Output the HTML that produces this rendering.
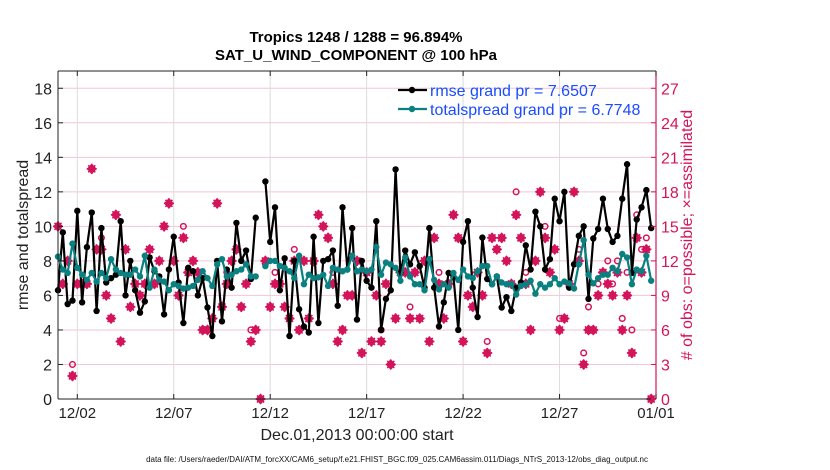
<!DOCTYPE html>
<html><head><meta charset="utf-8"><style>
body{margin:0;background:#fff;}
svg{display:block;font-family:"Liberation Sans",Arial,sans-serif;}
</style></head><body>
<svg id="chart" width="830" height="470" viewBox="0 0 830 470" xmlns="http://www.w3.org/2000/svg"></svg>
<script>
const rmse=[6.3,9.65,5.5,5.7,10.9,5.6,8.8,10.8,5.1,9.9,6.75,7.0,7.2,10.3,6.0,8.0,6.3,5.0,5.65,8.2,7.4,7.1,4.9,7.5,9.4,6.75,4.4,7.6,7.4,6.0,7.0,
5.3,3.65,8.0,4.5,7.5,6.45,10.2,8.0,8.6,6.95,10.5,null,12.6,9.1,11.1,6.3,8.15,3.65,8.0,5.2,4.2,3.85,9.4,4.4,8.0,8.1,8.6,5.4,11.1,7.5,9.9,
4.6,8.0,6.85,6.45,10.3,4.0,5.8,6.3,13.3,7.3,8.6,7.8,8.5,7.7,6.45,9.9,6.45,4.2,5.6,7.3,7.05,4.0,9.1,10.3,6.45,4.75,9.35,6.95,6.65,7.1,5.3,5.9,
5.1,6.45,6.75,8.9,7.5,10.85,10.0,7.5,8.1,11.6,10.3,12.0,6.45,7.8,9.45,10.0,5.8,9.3,9.85,11.6,9.85,9.1,9.45,11.6,13.6,7.3,10.4,11.1,12.1,9.9];
const spread=[8.25,7.5,7.3,9.0,7.6,7.2,6.9,7.3,6.8,7.3,7.0,8.1,7.5,7.3,7.2,7.2,7.5,7.1,8.3,6.45,7.5,6.9,6.8,6.3,6.65,6.55,6.4,6.45,6.55,6.9,7.4,
7.0,6.55,7.8,8.1,7.1,7.2,7.4,7.5,7.8,7.1,7.1,null,7.7,8.0,8.0,7.7,7.6,7.4,7.0,8.3,6.65,7.2,7.0,7.05,7.2,6.55,7.6,7.5,7.4,7.5,8.3,
7.4,7.5,7.4,7.5,8.8,7.2,7.9,7.8,7.6,6.85,8.2,7.1,6.65,6.65,6.3,8.1,6.9,6.35,6.65,6.45,7.3,6.9,7.5,7.1,7.0,7.4,7.7,7.7,6.65,7.1,6.75,6.65,
6.65,6.05,6.55,6.65,6.85,6.1,6.65,6.45,6.65,7.0,6.65,6.8,6.7,6.4,7.8,9.2,7.2,6.7,7.0,7.2,7.2,7.6,7.4,8.4,8.2,6.65,7.5,7.4,8.3,6.85];
const assim=[15,10,12,2,10,10,10,20,13,13,9,7,16,5,13,8,10,9,10,13,10,12,15,17,12,9,14,11,12,11,6,
6,7,17,8,10,12,13,8,10,5,6,0,12,8,10,10,8,7,12,6,12,7,12,16,15,14,10,5,6,9,9,
12,4,11,5,9,5,10,3,7,11,11,7,11,7,12,5,14,10,7,10,16,14,5,9,8,11,9,4,14,13,14,12,
10,16,14,10,6,12,18,14,11,13,6,7,10,18,12,3,6,6,9,11,10,9,11,6,9,4,14,11,13,0];
const possible=[15,10,12,3,10,10,10,20,13,14,9,7,16,5,13,8,10,9,10,13,10,12,15,17,12,9,15,11,12,11,6,
6,7,17,8,11,12,13,8,10,6,6,0,12,8,11,10,8,7,13,6,12,7,12,16,15,14,11,5,6,9,9,
12,4,11,5,9,6,10,3,7,11,11,8,11,7,12,5,14,11,7,10,16,14,5,9,8,11,9,5,14,13,14,12,
10,18,14,11,6,12,18,15,11,13,7,7,10,18,13,4,8,6,10,11,12,10,12,7,11,6,16,13,14,0];
const t0=0, dt=0.25;
const xTickDays=[1,6,11,16,21,26,31];
const xTickLabels=["12/02","12/07","12/12","12/17","12/22","12/27","01/01"];
const yTicks=[0,2,4,6,8,10,12,14,16,18];
const y2Ticks=[0,3,6,9,12,15,18,21,24,27];

const svg=document.getElementById('chart');
const NS='http://www.w3.org/2000/svg';
const L=58,R=656,T=71,B=399;
const xs=d=>L+(d-0)/31*(R-L);
const ys=v=>B-v/19*(B-T);
const ys2=v=>B-v/28.5*(B-T);
const RED='#d4145a',TEAL='#0a8080';
function mk(tag,attrs,parent){const e=document.createElementNS(NS,tag);for(const k in attrs)e.setAttribute(k,attrs[k]);(parent||svg).appendChild(e);return e;}
function txt(s,attrs){const e=mk('text',attrs);e.textContent=s;return e;}

const grid=mk('g',{});


yTicks.forEach(v=>{if(v>0)mk('line',{x1:L,x2:R,y1:ys(v),y2:ys(v),stroke:'#f2c6d6','stroke-width':1},grid);});
xTickDays.forEach(d=>mk('line',{x1:xs(d),x2:xs(d),y1:T,y2:B,stroke:'#dcdcdc','stroke-width':1},grid));

const mg=mk('g',{});


possible.forEach((v,i)=>{
  const c=mk('circle',{cx:xs(t0+i*dt),cy:ys2(v),r:2.8,fill:'none',stroke:RED,'stroke-width':1.5},mg);
  
  
});
assim.forEach((v,i)=>{
  const x=xs(t0+i*dt),y=ys2(v);
  const g=mk('g',{},mg);
  
  
  mk('path',{d:`M${x-5},${y}L${x},${y-5.5}L${x+5},${y}L${x},${y+5.5}Z`,fill:RED},g);
  mk('path',{d:`M${x-5},${y}H${x+5}M${x},${y-5}V${y+5}M${x-3.5},${y-3.5}L${x+3.5},${y+3.5}M${x-3.5},${y+3.5}L${x+3.5},${y-3.5}`,stroke:RED,'stroke-width':1.6},g);
});

function series(arr,color,name){
  const g=mk('g',{});
  
  
  let d='',pen=false;
  arr.forEach((v,i)=>{if(v===null){pen=false;return;}d+=(pen?'L':'M')+xs(t0+i*dt).toFixed(1)+','+ys(v).toFixed(1);pen=true;});
  mk('path',{d,fill:'none',stroke:color,'stroke-width':2.2,'stroke-linejoin':'round'},g);
  arr.forEach((v,i)=>{if(v===null)return;mk('circle',{cx:xs(t0+i*dt),cy:ys(v),r:3.2,fill:color},g);});
}
series(rmse,'#000','rmse-line');
series(spread,TEAL,'totalspread-line');

const ax=mk('g',{});


mk('line',{x1:L,x2:R,y1:T,y2:T,stroke:'#222','stroke-width':1},ax);
mk('line',{x1:L,x2:R,y1:B,y2:B,stroke:'#222','stroke-width':1},ax);
mk('line',{x1:L,x2:L,y1:T,y2:B,stroke:'#222','stroke-width':1},ax);
mk('line',{x1:R,x2:R,y1:T,y2:B,stroke:RED,'stroke-width':1.2},ax);
yTicks.forEach(v=>{
  mk('line',{x1:L,x2:L+5,y1:ys(v),y2:ys(v),stroke:'#222'},ax);
  const t=txt(String(v),{x:L-6,y:ys(v)+6,'text-anchor':'end','font-size':16,fill:'#222'});
  
  
});
y2Ticks.forEach(v=>{
  mk('line',{x1:R-5,x2:R,y1:ys2(v),y2:ys2(v),stroke:RED},ax);
  const t=txt(String(v),{x:R+5,y:ys2(v)+6,'font-size':16,fill:RED});
  
  
});
xTickDays.forEach((d,i)=>{
  mk('line',{x1:xs(d),x2:xs(d),y1:B,y2:B-5,stroke:'#222'},ax);
  mk('line',{x1:xs(d),x2:xs(d),y1:T,y2:T+5,stroke:'#222'},ax);
  const t=txt(xTickLabels[i],{x:xs(d),y:B+19,'text-anchor':'middle','font-size':15,fill:'#222'});
  
  
});
</script>
<svg style="position:absolute;left:0;top:0" width="830" height="470">
<text x="356" y="42" text-anchor="middle" font-size="15" font-weight="bold" font-family="Liberation Sans, sans-serif">Tropics 1248 / 1288 = 96.894%</text>
<text x="356" y="60" text-anchor="middle" font-size="15" font-weight="bold" font-family="Liberation Sans, sans-serif">SAT_U_WIND_COMPONENT @ 100 hPa</text>
<text transform="translate(28,235) rotate(-90)" text-anchor="middle" font-size="16" fill="#222" font-family="Liberation Sans, sans-serif">rmse and totalspread</text>
<text transform="translate(692,235) rotate(-90)" text-anchor="middle" font-size="16" fill="#d4145a" font-family="Liberation Sans, sans-serif"># of obs: o=possible; ×=assimilated</text>
<text x="357" y="440" text-anchor="middle" font-size="16" fill="#222" font-family="Liberation Sans, sans-serif">Dec.01,2013 00:00:00 start</text>
<text x="397" y="462" text-anchor="middle" font-size="8" fill="#111" font-family="Liberation Sans, sans-serif">data file: /Users/raeder/DAI/ATM_forcXX/CAM6_setup/f.e21.FHIST_BGC.f09_025.CAM6assim.011/Diags_NTrS_2013-12/obs_diag_output.nc</text>
<g font-family="Liberation Sans, sans-serif">
<line x1="398" x2="427" y1="90" y2="90" stroke="#000" stroke-width="2.2"/><circle cx="412" cy="90" r="3.2" fill="#000"/>
<text x="430" y="96" font-size="16" fill="#1a4cff">rmse grand pr = 7.6507</text>
<line x1="398" x2="427" y1="109" y2="109" stroke="#0a8080" stroke-width="2.2"/><circle cx="412" cy="109" r="3.2" fill="#0a8080"/>
<text x="430" y="115" font-size="16" fill="#1a4cff">totalspread grand pr = 6.7748</text>
</g>
</svg>
</body></html>
